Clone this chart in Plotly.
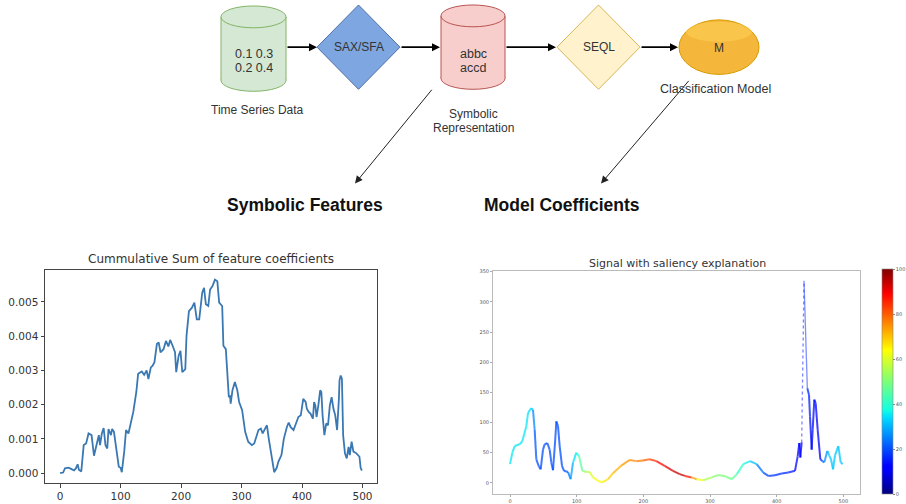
import plotly.graph_objects as go
from plotly.colors import sample_colorscale

# ---------------- data ----------------
# cumulative sum of SEQL feature coefficients (values in units of 1e-3)
cum_idx = [0, 5, 8, 14, 19, 23, 26, 29, 31, 35,
           39, 43, 47, 52, 56, 61, 64, 66, 69, 72,
           75, 78, 80, 84, 86, 89, 92, 95, 97, 100,
           102, 106, 109, 113, 117, 121, 126, 129, 135, 139,
           143, 146, 150, 153, 156, 160, 163, 166, 171, 175,
           179, 182, 186, 190, 192, 196, 199, 202, 207, 209,
           213, 218, 222, 226, 230, 235, 238, 241, 245, 248,
           252, 256, 260, 263, 268, 270, 274, 277, 279, 281,
           282, 285, 289, 293, 296, 301, 306, 311, 317, 321,
           325, 328, 332, 335, 339, 342, 345, 348, 352, 354,
           358, 361, 366, 370, 375, 378, 381, 386, 390, 394,
           398, 402, 406, 408, 411, 414, 418, 420, 422, 424,
           427, 430, 432, 434, 437, 440, 443, 446, 449, 452,
           455, 458, 461, 462, 464, 466, 468, 471, 474, 477,
           479, 482, 485, 490, 495, 497, 499]
cum_milli = [0, 0.02, 0.145, 0.16, 0.12, 0.08, 0.14, 0.26, 0.1, 0.05,
             0.82, 0.87, 1.16, 1.11, 0.51, 0.92, 1.11, 0.82, 1.16, 1.32,
             0.82, 0.72, 1.29, 1.11, 1.29, 1.21, 0.82, 0.53, 0.19, 0.16,
             0.03, 0.63, 1.26, 1.16, 1.45, 1.79, 2.37, 2.9, 2.97, 2.87,
             3.0, 2.75, 3.09, 3.14, 3.24, 3.77, 3.82, 3.53, 3.62, 3.86,
             3.7, 3.89, 3.72, 3.53, 2.95, 3.43, 3.57, 2.95, 3.04, 4.01,
             4.73, 4.83, 4.98, 4.49, 4.49, 5.27, 5.41, 4.93, 4.88, 5.36,
             5.46, 5.65, 5.6, 4.98, 4.88, 3.72, 3.62, 2.66, 2.22, 2.27,
             2.03, 2.42, 2.66, 2.42, 2.08, 1.84, 1.21, 0.92, 0.82, 0.87,
             1.11, 1.26, 1.3, 1.16, 1.3, 1.4, 1.01, 0.63, 0.24, 0.03,
             0.15, 0.34, 0.53, 1.01, 1.35, 1.48, 1.35, 1.26, 1.45, 1.64,
             1.69, 2.17, 2.08, 1.88, 1.79, 1.74, 1.59, 2.08, 1.98, 1.64,
             1.98, 2.42, 2.37, 1.69, 1.11, 1.45, 1.4, 1.98, 2.22, 1.88,
             1.69, 1.26, 2.17, 2.71, 2.85, 2.75, 1.11, 0.58, 0.43, 0.77,
             0.53, 0.92, 0.63, 0.58, 0.48, 0.15, 0.08]
cum_val = [v * 1e-3 for v in cum_milli]

# signal samples and their saliency (0-100)
sig_x = [0, 3.5, 7, 14.5, 18.5, 24.5, 27, 32, 34.5, 37,
         39.5, 43, 46, 49.5, 52, 56, 59.5, 62, 64.5, 67.5,
         69.5, 72, 74.5, 78, 81, 87, 91, 94.5, 99.5, 103.5,
         108.5, 114.5, 119.5, 124.5, 132, 138.5, 147, 154.5, 167, 179.5,
         189.5, 199.5, 209.5, 219.5, 232, 244.5, 254.5, 262.5, 272.5, 280,
         290, 302.5, 312.5, 322.5, 332.5, 340, 350, 360, 370, 380,
         387.5, 397.5, 407.5, 417.5, 427.5, 431.5, 434, 435.5, 437.5, 441,
         446, 448.5, 450, 452.5, 454, 456.5, 458.5, 461.5, 465.5, 468.5,
         471.5, 476, 479, 481.5, 484.5, 487.5, 492.5, 496, 499]
sig_y = [31, 50, 61, 64, 69, 94, 116, 124, 121, 88,
         39, 28, 22.5, 55, 64, 66, 55, 33.5, 21, 66,
         102, 94, 61, 28, 20, 18, 6, 33.5, 50, 44.5,
         20, 18, 18, 9, 3.5, 0.6, 6, 16, 28.6, 38,
         36, 37, 39, 36, 28, 20, 14.5, 11.5, 9, 6,
         4.4, 9, 13, 11, 6, 14, 31, 36, 31, 17,
         11.5, 12.5, 15.5, 17, 20, 44, 66, 42, 67, 335,
         157, 146, 110, 55, 88, 138, 132, 88, 39, 36,
         34, 53, 45, 39, 22.5, 45.5, 61, 34, 31]
sig_sal = [35, 35, 35, 35, 35, 35, 35, 34, 30, 22,
           20, 20, 20, 20, 20, 20, 20, 20, 20, 20,
           20, 20, 20, 20, 20, 22, 25, 33, 36, 42,
           50, 54, 58, 62, 63, 64, 68, 70, 73, 75,
           76, 78, 82, 86, 90, 93, 95, 93, 80, 66,
           58, 52, 50, 50, 48, 44, 38, 35, 28, 20,
           18, 17, 17, 16, 14, 12, 11, 11, 12, 15,
           17, 16, 15, 13, 13, 14, 13, 11, 14, 18,
           24, 30, 32, 32, 32, 32, 32, 32, 32]
sal_range = [0, 100]

# matplotlib-style jet colour map
jet = [[0.0, "rgb(0,0,128)"], [0.11, "rgb(0,0,255)"], [0.125, "rgb(0,0,255)"],
       [0.34, "rgb(0,220,255)"], [0.375, "rgb(20,255,226)"],
       [0.5, "rgb(124,255,121)"], [0.64, "rgb(255,255,0)"],
       [0.66, "rgb(255,234,0)"], [0.89, "rgb(255,0,0)"],
       [0.91, "rgb(232,0,0)"], [1.0, "rgb(128,0,0)"]]

W, H = 906, 504
fig = go.Figure()

# ---------------- left: cumulative sum ----------------
fig.add_trace(go.Scatter(x=cum_idx, y=cum_val, mode="lines",
                         line=dict(color="#3a78b3", width=1.8),
                         xaxis="x", yaxis="y", showlegend=False,
                         hoverinfo="skip"))

# ---------------- right: signal coloured by saliency ----------------
for i in range(len(sig_x) - 1):
    s = (sig_sal[i] + sig_sal[i + 1]) / 2.0
    col = sample_colorscale(jet, [s / 100.0])[0]
    rising_spike = sig_y[i + 1] > 300
    falling_spike = sig_y[i] > 300
    if rising_spike:
        ln = dict(color=col, width=1.3, dash="dot")
        op = 0.5
    elif falling_spike:
        ln = dict(color=col, width=1.3)
        op = 0.5
    else:
        ln = dict(color=col, width=2.0)
        op = 0.75
    fig.add_trace(go.Scatter(x=sig_x[i:i + 2], y=sig_y[i:i + 2], mode="lines",
                             line=ln, opacity=op, xaxis="x2", yaxis="y2",
                             showlegend=False, hoverinfo="skip"))

# colour bar for the saliency scale
fig.add_trace(go.Scatter(
    x=[0, 0], y=[0, 0], mode="markers", xaxis="x2", yaxis="y2",
    showlegend=False, hoverinfo="skip",
    marker=dict(size=0.1, opacity=0, color=sal_range, cmin=0, cmax=100,
                colorscale=jet, showscale=True,
                colorbar=dict(x=881.5 / W, xanchor="left", y=1 - 383 / H,
                              yanchor="middle", thickness=11,
                              thicknessmode="pixels", len=225,
                              lenmode="pixels", outlinewidth=0.6,
                              outlinecolor="#888",
                              tickvals=[0, 20, 40, 60, 80, 100],
                              ticks="outside", ticklen=2, tickcolor="#888",
                              tickfont=dict(size=5, color="#555",
                                            family="DejaVu Sans"),
                              xpad=0, ypad=0))))

# empty trace anchoring the diagram canvas
fig.add_trace(go.Scatter(x=[], y=[], xaxis="x3", yaxis="y3",
                         showlegend=False, hoverinfo="skip"))

# ---------------- diagram shapes ----------------
shapes = []


def cylinder(x0, x1, y0, y1, ry, fill, edge):
    shapes.append(dict(type="circle", xref="x3", yref="y3", x0=x0, x1=x1,
                       y0=y1 - 2 * ry, y1=y1, fillcolor=fill,
                       line=dict(color=edge, width=1)))
    shapes.append(dict(type="rect", xref="x3", yref="y3", x0=x0, x1=x1,
                       y0=y0 + ry, y1=y1 - ry, fillcolor=fill,
                       line=dict(width=0)))
    for xx in (x0, x1):
        shapes.append(dict(type="line", xref="x3", yref="y3", x0=xx, x1=xx,
                           y0=y0 + ry, y1=y1 - ry,
                           line=dict(color=edge, width=1)))
    shapes.append(dict(type="circle", xref="x3", yref="y3", x0=x0, x1=x1,
                       y0=y0, y1=y0 + 2 * ry, fillcolor=fill,
                       line=dict(color=edge, width=1)))


def diamond(cx, cy, hw, hh, fill, edge):
    path = (f"M {cx - hw},{cy} L {cx},{cy - hh} L {cx + hw},{cy} "
            f"L {cx},{cy + hh} Z")
    shapes.append(dict(type="path", xref="x3", yref="y3", path=path,
                       fillcolor=fill, line=dict(color=edge, width=1)))


cylinder(221, 286, 4, 90, 11, "#d5e8d4", "#82b366")
diamond(358.5, 45.5, 41.5, 42.5, "#7ea6e0", "#4f6fa8")
cylinder(441, 505, 3, 88, 11, "#f8cecc", "#b85450")
diamond(598.5, 45.5, 41.5, 42.5, "#fff2cc", "#d6b656")
shapes.append(dict(type="circle", xref="x3", yref="y3", x0=679, x1=759,
                   y0=18, y1=73, fillcolor="#f4b73c",
                   line=dict(color="#d79b00", width=1)))
shapes.append(dict(type="circle", xref="x3", yref="y3", x0=686, x1=752,
                   y0=20, y1=40, fillcolor="rgba(255,214,90,0.45)",
                   line=dict(width=0)))

annotations = []
TXT = "Liberation Sans, Arial, sans-serif"


def label(x, y, text, size=11, color="#333", bold=False):
    t = f"<b>{text}</b>" if bold else text
    annotations.append(dict(xref="x3", yref="y3", x=x, y=y, text=t,
                            showarrow=False, xanchor="center",
                            yanchor="middle",
                            font=dict(family=TXT, size=size, color=color)))


def arrow(x0, y0, x1, y1, width=1.6, size=1.0, color="#000"):
    annotations.append(dict(xref="x3", yref="y3", axref="x3", ayref="y3",
                            x=x1, y=y1, ax=x0, ay=y0, text="",
                            showarrow=True, arrowhead=2, arrowsize=size,
                            arrowwidth=width, arrowcolor=color, standoff=0,
                            startstandoff=0))


arrow(286, 45.5, 317, 45.5)
arrow(400, 45.5, 440, 45.5)
arrow(505, 45.5, 556, 45.5)
arrow(640, 45.5, 678, 45.5)
arrow(433, 87, 355, 183, width=1, size=1.5, color="#222")
arrow(690, 78, 601, 183, width=1, size=1.5, color="#222")

label(254, 52, "0.1 0.3", 12.5)
label(254, 67, "0.2 0.4", 12.5)
label(358.5, 45.5, "SAX/SFA", 12)
label(473, 52, "abbc", 12.5)
label(473, 67, "accd", 12.5)
label(598.5, 45.5, "SEQL", 12)
label(719, 46, "M", 12)
label(257, 109, "Time Series Data", 12)
label(473, 113, "Symbolic", 12)
label(473, 127, "Representation", 12)
label(715, 88, "Classification Model", 12.5)
label(305, 205, "Symbolic Features", 17.5, "#111", bold=True)
label(562, 205, "Model Coefficients", 17.5, "#111", bold=True)

# subplot titles
annotations.append(dict(xref="paper", yref="paper", x=211 / W, y=1 - 259 / H,
                        text="Cummulative Sum of feature coefficients",
                        showarrow=False, xanchor="center", yanchor="middle",
                        font=dict(family="DejaVu Sans", size=12,
                                  color="#333")))
annotations.append(dict(xref="paper", yref="paper", x=677 / W, y=1 - 264 / H,
                        text="Signal with saliency explanation",
                        showarrow=False, xanchor="center", yanchor="middle",
                        font=dict(family="DejaVu Sans", size=11,
                                  color="#333")))

tick_font = dict(family="DejaVu Sans", size=10.5, color="#333")
small_font = dict(family="DejaVu Sans", size=5, color="#555")

fig.update_layout(
    width=W, height=H, margin=dict(l=0, r=0, t=0, b=0),
    paper_bgcolor="white", plot_bgcolor="rgba(0,0,0,0)",
    showlegend=False, shapes=shapes, annotations=annotations,
    xaxis=dict(domain=[45 / W, 377 / W], range=[-25, 524], anchor="y",
               tickvals=[0, 100, 200, 300, 400, 500], ticks="outside",
               ticklen=3.5, tickcolor="#444", showline=True, mirror=True,
               linecolor="#444", linewidth=1, showgrid=False, zeroline=False,
               tickfont=tick_font),
    yaxis=dict(domain=[(H - 485) / H, (H - 270) / H],
               range=[-0.00029, 0.005935], anchor="x",
               tickvals=[0, 0.001, 0.002, 0.003, 0.004, 0.005],
               tickformat=".3f", ticks="outside", ticklen=3.5,
               tickcolor="#444", showline=True, mirror=True,
               linecolor="#444", linewidth=1, showgrid=False, zeroline=False,
               tickfont=tick_font),
    xaxis2=dict(domain=[493 / W, 860 / W], range=[-25.5, 525], anchor="y2",
                tickvals=[0, 100, 200, 300, 400, 500], ticks="outside",
                ticklen=2, tickcolor="#aaa", showline=True, mirror=True,
                linecolor="#bbb", linewidth=1, showgrid=False,
                zeroline=False, tickfont=small_font),
    yaxis2=dict(domain=[(H - 496) / H, (H - 271) / H], range=[-18.6, 351.5],
                anchor="x2", tickvals=list(range(0, 351, 50)),
                ticks="outside", ticklen=2, tickcolor="#aaa", showline=True,
                mirror=True, linecolor="#bbb", linewidth=1, showgrid=False,
                zeroline=False, tickfont=small_font),
    xaxis3=dict(domain=[0, 1], range=[0, W], anchor="y3", visible=False,
                fixedrange=True),
    yaxis3=dict(domain=[(H - 235) / H, 1], range=[235, 0], anchor="x3",
                visible=False, fixedrange=True),
)

fig.write_html("out.html")
